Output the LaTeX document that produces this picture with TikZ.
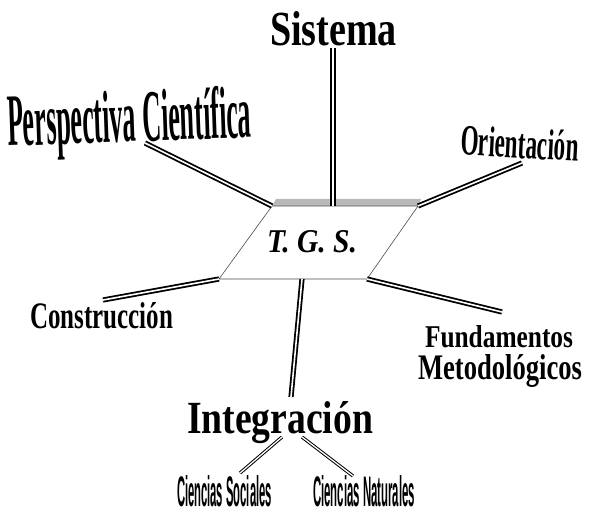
\documentclass[tikz,border=0pt]{standalone}
\usepackage{fontspec}
\setmainfont{Liberation Serif}
\newfontfamily\cienciasfont{Liberation Sans}
\usetikzlibrary{positioning}
\newcommand{\wordart}[3]{\resizebox{#1bp}{#2bp}{#3}}

\tikzset{
  barra/.style={double=white,double distance=1.6bp,line width=1.8bp},
  subbarra/.style={double=white,double distance=1.3bp,line width=1.0bp},
  etiqueta/.style={anchor=base west,inner sep=0pt,outer sep=0pt},
}

\begin{document}
\begin{tikzpicture}[x=1bp,y=-1bp]
  \useasboundingbox (0,0) rectangle (589,519);
  % cuerpo central
  \coordinate (tl) at (272,206);
  \coordinate (tr) at (418,206);
  \coordinate (br) at (367,279);
  \coordinate (bl) at (219,279);
  \fill[gray!55] (tl) -- (276,199) -- (421,199) -- (tr) -- cycle;
  \draw[gray!60!black,line width=0.6bp,fill=white] (tl) -- (tr) -- (br) -- (bl) -- cycle;
  \node[etiqueta] (tgs) at (267,252) {\wordart{90}{22}{\bfseries\itshape T. G. S.}};

  \node[etiqueta] (sistema) at (270,46) {\wordart{127}{34}{\bfseries Sistema}};
  \node[etiqueta,rotate=2] (perspectiva) at (8,146) {\wordart{244}{52}{\bfseries Perspectiva Científica}};
  \node[etiqueta,rotate=-3] (orientacion) at (460,155) {\wordart{118}{30}{\bfseries Orientación}};
  \node[etiqueta] (construccion) at (30,328) {\wordart{143}{26}{\bfseries Construcción}};
  \node[etiqueta] (fundamentos) at (425,347) {\wordart{148}{22}{\bfseries Fundamentos}};
  \node[etiqueta] (metodologicos) at (418,379) {\wordart{164}{25}{\bfseries Metodológicos}};
  \node[etiqueta] (integracion) at (187,433) {\wordart{186}{32}{\bfseries Integración}};
  \node[etiqueta] (sociales) at (177,506) {\wordart{95}{31}{\cienciasfont\bfseries Ciencias Sociales}};
  \node[etiqueta] (naturales) at (313,506) {\wordart{102}{31}{\cienciasfont\bfseries Ciencias Naturales}};

  % extremos de las barras
  \coordinate (sisA) at (333,206);
  \coordinate (sisB) at (333,48);
  \coordinate (perB) at (145,143);
  \coordinate (oriB) at (522,163);
  \coordinate (conB) at (103,300);
  \coordinate (funB) at (502,312);
  \coordinate (intA) at (302,279);
  \coordinate (intB) at (291,397);
  \coordinate (socA) at (282,437);
  \coordinate (socB) at (240,473);
  \coordinate (natA) at (302,437);
  \coordinate (natB) at (353,476);

  \draw[barra] (sisA) -- (sisB);
  \draw[barra] (tl) -- (perB);
  \draw[barra] (tr) -- (oriB);
  \draw[barra] (bl) -- (conB);
  \draw[barra] (br) -- (funB);
  \draw[barra] (intA) -- (intB);
  \draw[subbarra] (socA) -- (socB);
  \draw[subbarra] (natA) -- (natB);
\end{tikzpicture}
\end{document}
